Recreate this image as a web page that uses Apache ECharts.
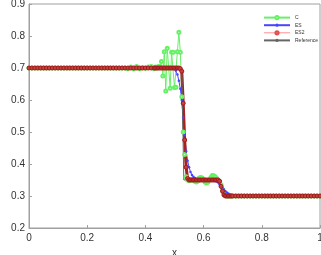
<!DOCTYPE html>
<html>
<head>
<meta charset="utf-8">
<script src="https://cdn.jsdelivr.net/npm/echarts@6/dist/echarts.min.js"></script>
<style>
  html, body { margin: 0; padding: 0; background: #fff; }
  #chart { width: 321px; height: 255px; }
</style>
</head>
<body>
<div id="chart"></div>
<script>
// sample positions: coarse on flat parts, finer around the shock
const xs = [
    0, 0.01, 0.02, 0.03, 0.04, 0.05, 0.06, 0.07, 0.08, 0.09,
    0.10, 0.11, 0.12, 0.13, 0.14, 0.15, 0.16, 0.17, 0.18, 0.19,
    0.20, 0.21, 0.22, 0.23, 0.24, 0.25, 0.26, 0.27, 0.28, 0.29,
    0.30, 0.31, 0.32, 0.33, 0.34, 0.35, 0.36, 0.37, 0.38, 0.39,
    0.40, 0.41, 0.42, 0.43,
    0.435, 0.44, 0.445, 0.45, 0.455, 0.46, 0.465, 0.47, 0.475, 0.48,
    0.485, 0.49, 0.495, 0.50, 0.505, 0.51, 0.515, 0.52, 0.525, 0.53,
    0.535, 0.54, 0.545, 0.55, 0.555, 0.56, 0.565, 0.57, 0.575, 0.58,
    0.585, 0.59, 0.595, 0.60, 0.605, 0.61, 0.615, 0.62, 0.625, 0.63,
    0.635, 0.64, 0.645, 0.65, 0.655, 0.66, 0.665, 0.67, 0.675, 0.68,
    0.685, 0.69, 0.695, 0.70,
    0.71, 0.72, 0.73, 0.74, 0.75, 0.76, 0.77, 0.78, 0.79, 0.80,
    0.81, 0.82, 0.83, 0.84, 0.85, 0.86, 0.87, 0.88, 0.89, 0.90,
    0.91, 0.92, 0.93, 0.94, 0.95, 0.96, 0.97, 0.98, 0.99, 1.00
];

const cVals = [
    0.7, 0.7, 0.7, 0.7, 0.7, 0.7, 0.7, 0.7, 0.7, 0.7,
    0.7, 0.7, 0.7, 0.7, 0.7, 0.7, 0.7, 0.7, 0.7, 0.7,
    0.7, 0.7, 0.7, 0.7, 0.7, 0.7, 0.7, 0.7, 0.7, 0.7,
    0.7, 0.7, 0.7, 0.7, 0.698, 0.703, 0.697, 0.705, 0.698, 0.701,
    0.699, 0.703, 0.705, 0.698,
    0.703, 0.70, 0.705, 0.703, 0.72, 0.675, 0.751, 0.628, 0.762, 0.70,
    0.637, 0.749, 0.749, 0.639, 0.64, 0.751, 0.812, 0.749, 0.61, 0.50,
    0.43, 0.36, 0.35, 0.348, 0.35, 0.352, 0.349, 0.346, 0.344, 0.347,
    0.356, 0.358, 0.356, 0.352, 0.344, 0.341, 0.344, 0.35, 0.358, 0.364,
    0.363, 0.36, 0.355, 0.35, 0.345, 0.335, 0.32, 0.308, 0.302, 0.3,
    0.3, 0.3, 0.3, 0.3,
    0.3, 0.3, 0.3, 0.3, 0.3, 0.3, 0.3, 0.3, 0.3, 0.3,
    0.3, 0.3, 0.3, 0.3, 0.3, 0.3, 0.3, 0.3, 0.3, 0.3,
    0.3, 0.3, 0.3, 0.3, 0.3, 0.3, 0.3, 0.3, 0.3, 0.3
];

const esVals = [
    0.7, 0.7, 0.7, 0.7, 0.7, 0.7, 0.7, 0.7, 0.7, 0.7,
    0.7, 0.7, 0.7, 0.7, 0.7, 0.7, 0.7, 0.7, 0.7, 0.7,
    0.7, 0.7, 0.7, 0.7, 0.7, 0.7, 0.7, 0.7, 0.7, 0.7,
    0.7, 0.7, 0.7, 0.7, 0.7, 0.7, 0.7, 0.7, 0.7, 0.7,
    0.7, 0.7, 0.7, 0.7,
    0.7, 0.7, 0.7, 0.7, 0.7, 0.7, 0.7, 0.7, 0.7, 0.7,
    0.7, 0.7, 0.699, 0.697, 0.692, 0.68, 0.66, 0.635, 0.60, 0.545,
    0.49, 0.44, 0.41, 0.39, 0.375, 0.366, 0.36, 0.356, 0.353, 0.351,
    0.35, 0.35, 0.35, 0.35, 0.35, 0.35, 0.35, 0.35, 0.35, 0.349,
    0.348, 0.347, 0.345, 0.342, 0.337, 0.332, 0.326, 0.32, 0.315, 0.311,
    0.308, 0.305, 0.303, 0.302,
    0.301, 0.3, 0.3, 0.3, 0.3, 0.3, 0.3, 0.3, 0.3, 0.3,
    0.3, 0.3, 0.3, 0.3, 0.3, 0.3, 0.3, 0.3, 0.3, 0.3,
    0.3, 0.3, 0.3, 0.3, 0.3, 0.3, 0.3, 0.3, 0.3, 0.3
];

const es2Vals = [
    0.7, 0.7, 0.7, 0.7, 0.7, 0.7, 0.7, 0.7, 0.7, 0.7,
    0.7, 0.7, 0.7, 0.7, 0.7, 0.7, 0.7, 0.7, 0.7, 0.7,
    0.7, 0.7, 0.7, 0.7, 0.7, 0.7, 0.7, 0.7, 0.7, 0.7,
    0.7, 0.7, 0.7, 0.7, 0.7, 0.7, 0.7, 0.7, 0.7, 0.7,
    0.7, 0.7, 0.7, 0.7,
    0.7, 0.7, 0.7, 0.7, 0.7, 0.7, 0.7, 0.7, 0.7, 0.7,
    0.7, 0.7, 0.7, 0.7, 0.7, 0.7, 0.7, 0.698, 0.69, 0.59,
    0.475, 0.39, 0.355, 0.35, 0.35, 0.35, 0.35, 0.35, 0.35, 0.35,
    0.35, 0.35, 0.35, 0.35, 0.35, 0.35, 0.35, 0.35, 0.35, 0.35,
    0.35, 0.35, 0.35, 0.35, 0.346, 0.33, 0.315, 0.303, 0.3, 0.3,
    0.3, 0.3, 0.3, 0.3,
    0.3, 0.3, 0.3, 0.3, 0.3, 0.3, 0.3, 0.3, 0.3, 0.3,
    0.3, 0.3, 0.3, 0.3, 0.3, 0.3, 0.3, 0.3, 0.3, 0.3,
    0.3, 0.3, 0.3, 0.3, 0.3, 0.3, 0.3, 0.3, 0.3, 0.3
];

// exact solution only needs its corners
const refX = [0, 0.525, 0.532, 0.655, 0.668, 1];
const refY = [0.7, 0.7, 0.35, 0.35, 0.3, 0.3];

const xTicks = [0, 0.2, 0.4, 0.6, 0.8, 1];

function pairs(x, y) {
    return x.map((v, i) => [v, y[i]]);
}

const chart = echarts.init(document.getElementById('chart'));

const axisText = { color: '#333', fontSize: 10, fontFamily: 'Liberation Sans' };

chart.setOption({
    animation: false,
    grid: {
        left: 29, right: 1, top: 4, bottom: 27,
        outerBoundsMode: 'none',
        show: true, borderColor: '#a0a0a0', borderWidth: 1
    },
    legend: {
        orient: 'vertical',
        left: 258, top: 10,
        itemWidth: 26, itemHeight: 4, itemGap: 2.5,
        textStyle: { fontSize: 5, color: '#333', fontFamily: 'Liberation Sans' },
        data: [
            { name: 'C' },
            { name: 'ES' },
            // legend swatch is the light marker line, not the thick band
            { name: 'ES2', lineStyle: { color: '#ff9090', width: 1 },
              itemStyle: { color: '#ff8080', borderColor: '#e05050' } },
            { name: 'Reference' }
        ]
    },
    xAxis: {
        type: 'value', min: 0, max: 1, interval: 0.2,
        name: 'x', nameLocation: 'middle', nameGap: 17,
        nameTextStyle: axisText,
        axisLine: { show: true, lineStyle: { color: '#a0a0a0' } },
        axisTick: { show: true, inside: true, length: 3, lineStyle: { color: '#a0a0a0' } },
        axisLabel: {
            ...axisText, margin: 5,
            formatter: v => xTicks.includes(+v.toFixed(1)) ? String(+v.toFixed(1)) : ''
        },
        splitLine: { show: false }
    },
    yAxis: {
        type: 'value', min: 0.2, max: 0.9, interval: 0.1,
        name: 'u2', nameLocation: 'middle', nameGap: 21, nameRotate: 90,
        nameTextStyle: axisText,
        axisLine: { show: true, lineStyle: { color: '#a0a0a0' } },
        axisTick: { show: true, inside: true, length: 3, lineStyle: { color: '#a0a0a0' } },
        axisLabel: { ...axisText, margin: 4, formatter: v => v.toFixed(1) },
        splitLine: { show: false }
    },
    series: [
        {
            name: 'C', type: 'line', data: pairs(xs, cVals),
            symbol: 'emptyCircle', symbolSize: 3, showAllSymbol: true,
            lineStyle: { color: '#66f066', width: 1 },
            itemStyle: { color: '#66f066', borderWidth: 1 }
        },
        {
            name: 'ES', type: 'line', data: pairs(xs, esVals),
            symbol: 'circle', symbolSize: 2.5, showAllSymbol: true,
            lineStyle: { color: '#4646ff', width: 1 },
            itemStyle: { color: '#4646ff' }
        },
        {
            name: 'ES2', type: 'line', data: pairs(xs, es2Vals),
            symbol: 'circle', symbolSize: 4, showAllSymbol: true,
            lineStyle: { color: '#a82020', width: 3 },
            itemStyle: { color: '#c84040', borderColor: '#a01818', borderWidth: 1 }
        },
        {
            name: 'Reference', type: 'line', data: pairs(refX, refY),
            symbol: 'none',
            lineStyle: { color: '#666', width: 1 },
            itemStyle: { color: '#666' }
        }
    ]
});
</script>
</body>
</html>
